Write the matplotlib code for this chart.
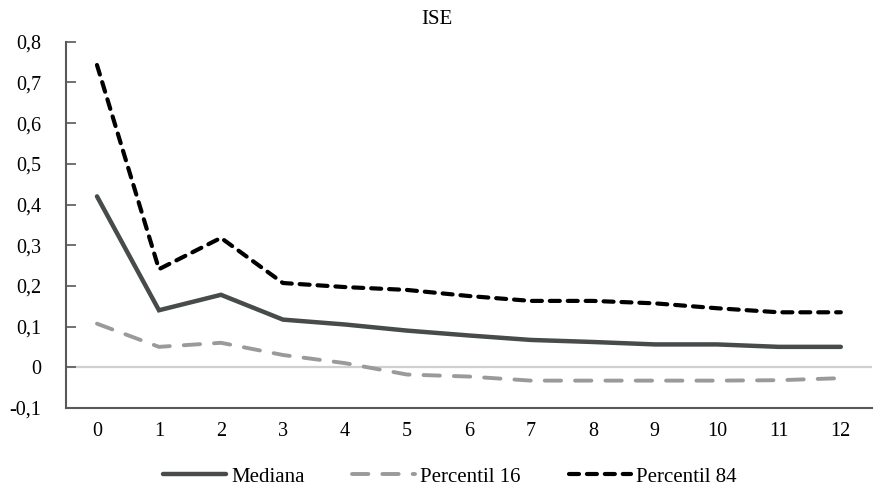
import matplotlib
matplotlib.use("Agg")
import matplotlib.pyplot as plt
from matplotlib.ticker import FuncFormatter

plt.rcParams['font.family'] = ['Liberation Serif', 'DejaVu Serif']

horizons = list(range(13))
mediana = [0.42, 0.14, 0.178, 0.117, 0.105, 0.090, 0.078, 0.067, 0.062, 0.056, 0.056, 0.050, 0.050]
p16 = [0.107, 0.050, 0.060, 0.030, 0.010, -0.018, -0.023, -0.033, -0.033, -0.033, -0.033, -0.032, -0.027]
p84 = [0.743, 0.241, 0.318, 0.207, 0.197, 0.190, 0.175, 0.163, 0.163, 0.157, 0.145, 0.135, 0.135]
y_ticks = [-0.1, 0.0, 0.1, 0.2, 0.3, 0.4, 0.5, 0.6, 0.7, 0.8]

fig = plt.figure(figsize=(8.74, 4.92), dpi=100)
ax = fig.add_axes([0.0755, 0.171, 0.922, 0.744])

ax.axhline(0, color='#d0d0d0', lw=1.6, zorder=1)

ax.plot(horizons, mediana, color='#474b4b', lw=3.2, solid_capstyle='round',
        solid_joinstyle='miter', label='Mediana', zorder=3)
ax.plot(horizons, p16, color='#9a9a9a', lw=2.8, dashes=(4.2, 3.6),
        dash_capstyle='round', label='Percentil 16', zorder=2)
ax.plot(horizons, p84, color='#000000', lw=3.0, dashes=(2.4, 1.9),
        dash_capstyle='round', label='Percentil 84', zorder=4)

ax.set_xlim(-0.5, 12.5)
ax.set_ylim(-0.1, 0.8)
ax.set_xticks(horizons)
ax.set_yticks(y_ticks)

def fmt(v, pos):
    if abs(v) < 1e-9:
        return '0'
    return f'{v:.1f}'.replace('.', ',')

ax.yaxis.set_major_formatter(FuncFormatter(fmt))
ax.tick_params(axis='y', direction='in', length=7, width=1.2, color='#595959',
               labelsize=14.5, pad=18)
ax.tick_params(axis='x', length=0, labelsize=14.5, pad=10)

for s in ['top', 'right']:
    ax.spines[s].set_visible(False)
for s in ['left', 'bottom']:
    ax.spines[s].set_color('#595959')
    ax.spines[s].set_linewidth(1.5)

fig.text(0.5, 0.961, 'ISE', ha='center', va='center', fontsize=15)

fig.legend(loc='center', bbox_to_anchor=(0.515, 0.031), ncol=3, frameon=False,
           fontsize=15, handlelength=3.0, handletextpad=0.25, columnspacing=2.3)

fig.savefig('out.png', dpi=100)
